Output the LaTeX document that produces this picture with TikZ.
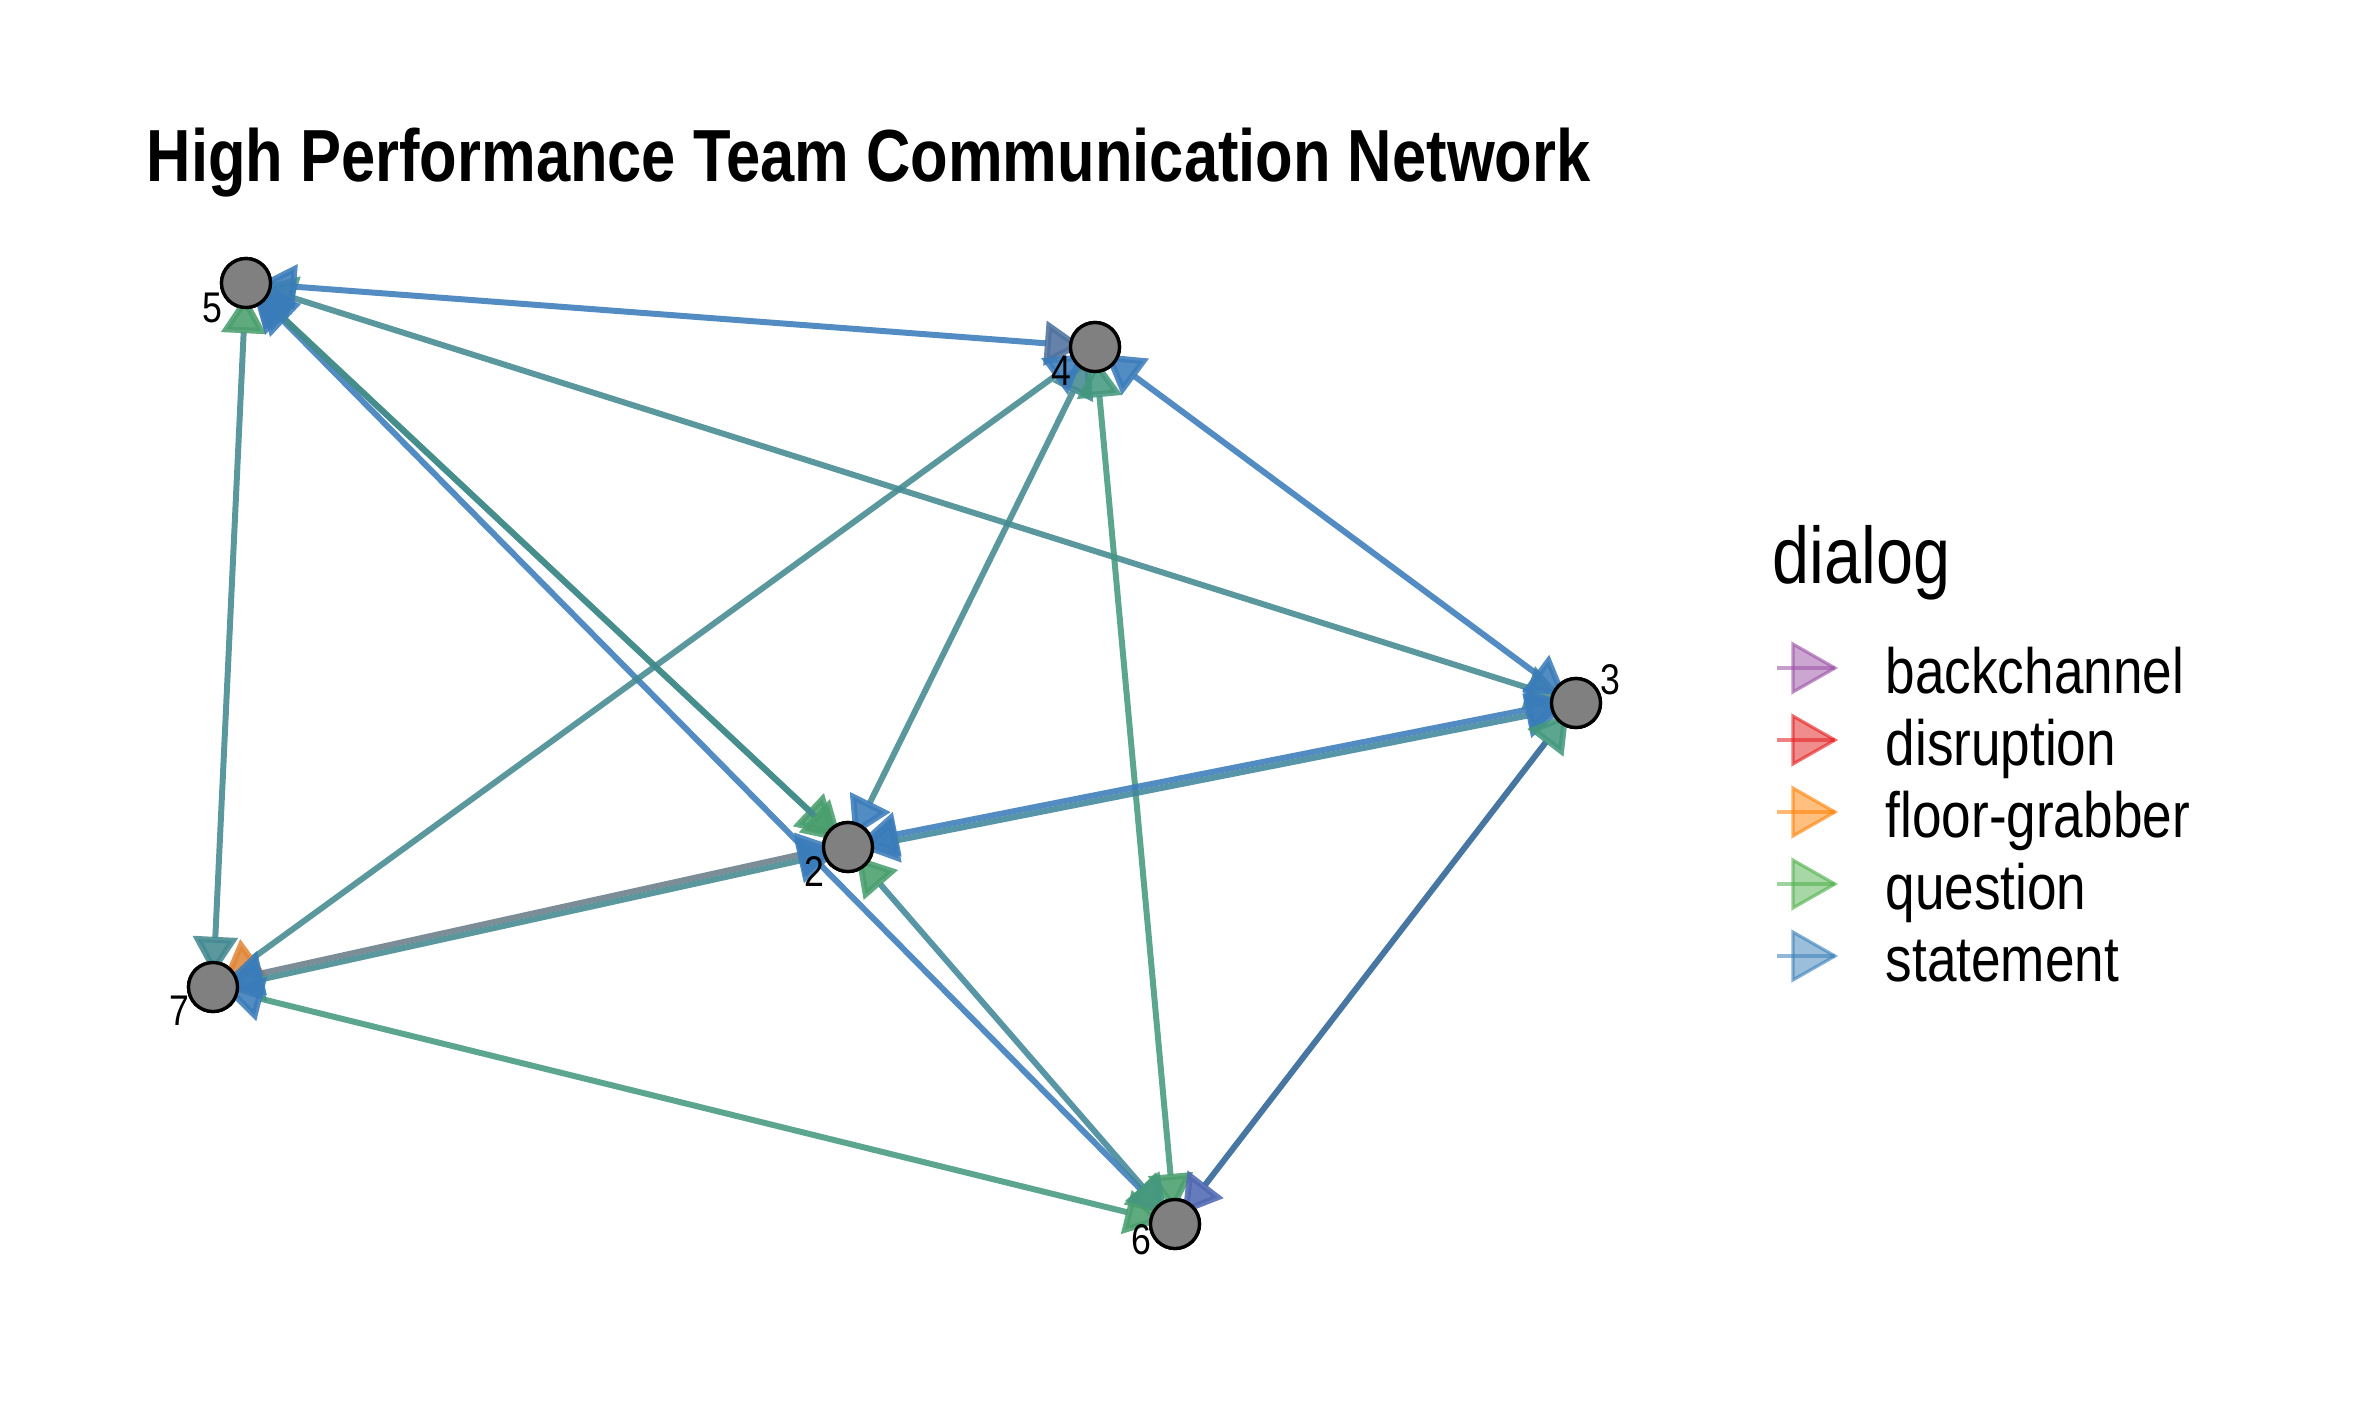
\documentclass[tikz,border=0pt]{standalone}
\usepackage{fontspec}
\setmainfont{Liberation Sans}
\usetikzlibrary{arrows.meta}
\definecolor{cblue}{HTML}{3A7CBA}
\definecolor{cteal}{HTML}{438A90}
\definecolor{cgreen}{HTML}{4A9E6E}
\definecolor{cgteal}{HTML}{45987F}
\definecolor{cslate}{HTML}{50729E}
\definecolor{cgray}{HTML}{6A7D8A}
\definecolor{cpblue}{HTML}{5169B2}
\definecolor{corange}{HTML}{E0873A}
\definecolor{vgray}{HTML}{808080}
\definecolor{lpurple}{HTML}{984EA3}
\definecolor{lred}{HTML}{E41A1C}
\definecolor{lorange}{HTML}{FF7F00}
\definecolor{lgreen}{HTML}{4DAF4A}
\definecolor{lblue}{HTML}{377EB8}
\begin{document}
\begin{tikzpicture}[x=0.01cm,y=-0.01cm,
  vtx/.style={circle,fill=vgray,draw=black,line width=0.95pt,minimum size=0.49cm,inner sep=0pt},
  lab/.style={inner sep=0pt,font=\fontsize{12.2}{12}\selectfont},
  edge/.style={line width=1.7pt,opacity=0.88,shorten >=-1.4mm,shorten <=-1.4mm},
  ar/.style 2 args={arrows={Triangle[length=3.8mm,width=4.4mm,color=#1,fill=#1]-Triangle[length=3.8mm,width=4.4mm,color=#2,fill=#2]}},
  legtxt/.style={anchor=base west,inner sep=0pt,font=\fontsize{18.2}{18}\selectfont},
  legline/.style={line width=1.1pt,opacity=0.55},
  legtri/.style={line width=0.9pt,fill opacity=0.5,draw opacity=0.6}
]
\path[use as bounding box] (0,0) rectangle (2362,1417);

% vertices
\node[vtx] (n5) at (246,283) {};
\node[vtx] (n4) at (1095,347) {};
\node[vtx] (n3) at (1576,703) {};
\node[vtx] (n2) at (848,847) {};
\node[vtx] (n7) at (213,987) {};
\node[vtx] (n6) at (1175,1224) {};

% edges
\draw[edge,cteal,ar={cgteal}{cteal}] (n5) -- (n3);
\draw[edge,cblue,ar={cblue}{cslate}] (n5) -- (n4);
\draw[edge,cteal,ar={cgreen}{cteal}] (n5) -- (n7);
\draw[edge,cblue,ar={cblue}{cgreen}] (n5) -- (n6);
\draw[edge,cgreen,ar={cblue}{cgreen},transform canvas={shift={(-0.03cm,0.03cm)}}] (n5) -- (n2);
\draw[edge,cteal,ar={cblue}{cgreen},transform canvas={shift={(0.03cm,-0.03cm)}}] (n5) -- (n2);
\draw[edge,cblue,ar={cblue}{cblue}] (n4) -- (n3);
\draw[edge,cteal,ar={cteal}{cblue}] (n4) -- (n2);
\draw[edge,cteal,ar={cblue}{corange}] (n4) -- (n7);
\draw[edge,cgteal,ar={cgteal}{cgreen}] (n4) -- (n6);
\draw[edge,cblue,ar={cblue}{cblue},transform canvas={yshift=0.03cm}] (n3) -- (n2);
\draw[edge,cteal!70!cblue,ar={cblue}{cblue},transform canvas={yshift=-0.03cm}] (n3) -- (n2);
\draw[edge,cblue!80!black,ar={cgteal}{cpblue}] (n3) -- (n6);
\draw[edge,cgray,ar={cblue}{cblue},transform canvas={yshift=0.03cm}] (n7) -- (n2);
\draw[edge,cteal,ar={cblue}{cblue},transform canvas={yshift=-0.03cm}] (n7) -- (n2);
\draw[edge,cgteal,ar={cblue}{cgreen}] (n7) -- (n6);
\draw[edge,cteal!80!cblue,ar={cgreen}{cgteal}] (n2) -- (n6);

% redraw vertices on top
\node[vtx] at (n5) {};
\node[vtx] at (n4) {};
\node[vtx] at (n3) {};
\node[vtx] at (n2) {};
\node[vtx] at (n7) {};
\node[vtx] at (n6) {};

% labels
\node[lab] (l5) at (212,308) {\scalebox{0.83}[1]{5}};
\node[lab] (l4) at (1061,371) {\scalebox{0.83}[1]{4}};
\node[lab] (l3) at (1610,680) {\scalebox{0.83}[1]{3}};
\node[lab] (l2) at (814,872) {\scalebox{0.83}[1]{2}};
\node[lab] (l7) at (179,1011) {\scalebox{0.83}[1]{7}};
\node[lab] (l6) at (1141,1240) {\scalebox{0.83}[1]{6}};

% title
\node[anchor=base west,inner sep=0pt] (title) at (146,181)
  {\resizebox{14.43cm}{\height}{\bfseries\fontsize{21}{21}\selectfont High Performance Team Communication Network}};

% legend
\node[anchor=base west,inner sep=0pt] (legtitle) at (1772,583)
  {\scalebox{0.83}[1]{\fontsize{22.8}{23}\selectfont dialog}};
\foreach \c/\t [count=\i from 0] in {lpurple/backchannel,lred/disruption,lorange/floor-grabber,lgreen/question,lblue/statement}{
  \pgfmathsetmacro{\yy}{668+72*\i}
  \draw[legline,\c] (1777,\yy) -- (1835,\yy);
  \filldraw[legtri,draw=\c,fill=\c] (1793,\yy-24) -- (1835,\yy) -- (1793,\yy+24) -- cycle;
  \node[legtxt] (leg\i) at (1885,\yy+25) {\scalebox{0.83}[1]{\t}};
}
\end{tikzpicture}
\end{document}
